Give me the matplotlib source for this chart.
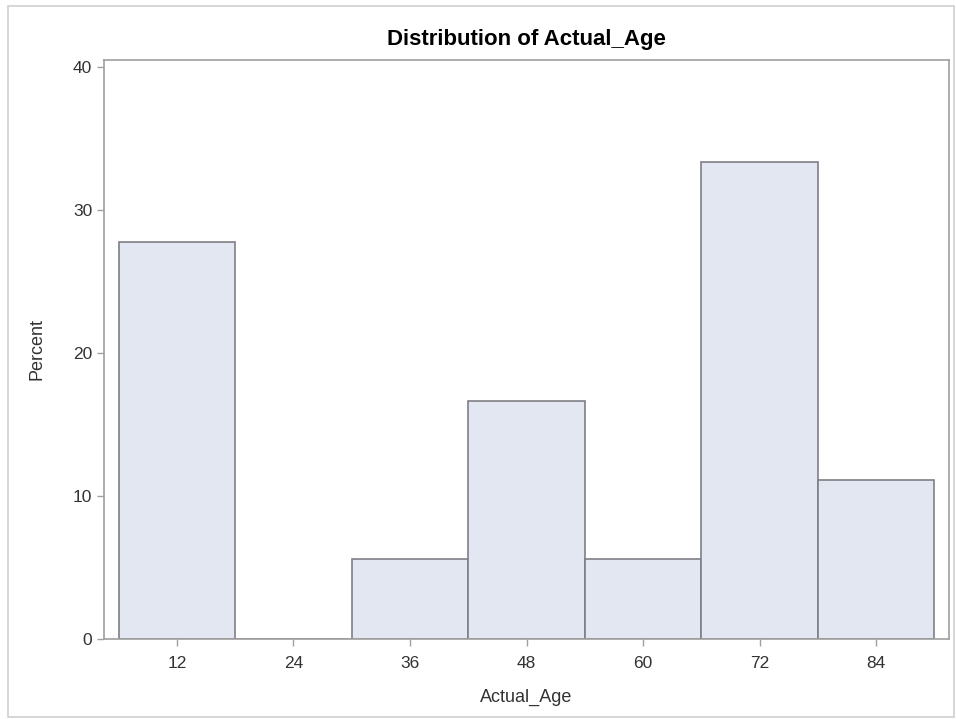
import numpy as np
import matplotlib.pyplot as plt
from matplotlib.patches import Rectangle

# Histogram data (percent per bin), bins centered on midpoints
midpoints = [12, 24, 36, 48, 60, 72, 84]
percent = [27.78, 0.0, 5.56, 16.67, 5.56, 33.33, 11.11]
bin_width = 12

plt.rcParams['font.family'] = ['Liberation Sans', 'DejaVu Sans']

fig = plt.figure(figsize=(9.56, 7.19), dpi=100)
ax = fig.add_axes([0.1088, 0.1113, 0.8839, 0.8053])

ax.bar(midpoints, percent, width=bin_width, color="#E3E7F1",
       edgecolor="#7F7F85", linewidth=1.2, zorder=2)

ax.set_xlim(4.5, 91.5)
ax.set_ylim(0, 40.5)
ax.set_xticks(midpoints)
ax.set_yticks([0, 10, 20, 30, 40])

for s in ax.spines.values():
    s.set_color("#A0A0A0")
    s.set_linewidth(1.2)

ax.tick_params(direction="out", length=5, color="#A0A0A0", labelsize=12.5,
               labelcolor="#333333", width=1)
ax.tick_params(axis="x", pad=7)

ax.set_xlabel("Actual_Age", fontsize=13, color="#333333", labelpad=13)
ax.set_ylabel("Percent", fontsize=13, color="#333333", labelpad=20)
ax.set_title("Distribution of Actual_Age", fontsize=16, fontweight="bold",
             pad=11)

# light outer border around the graph area
fig.patches.append(Rectangle((8 / 956, 2 / 719), 946 / 956, 711 / 719,
                             transform=fig.transFigure, fill=False,
                             edgecolor="#D0D0D0", linewidth=1.2))

fig.savefig("out.png", dpi=100)
